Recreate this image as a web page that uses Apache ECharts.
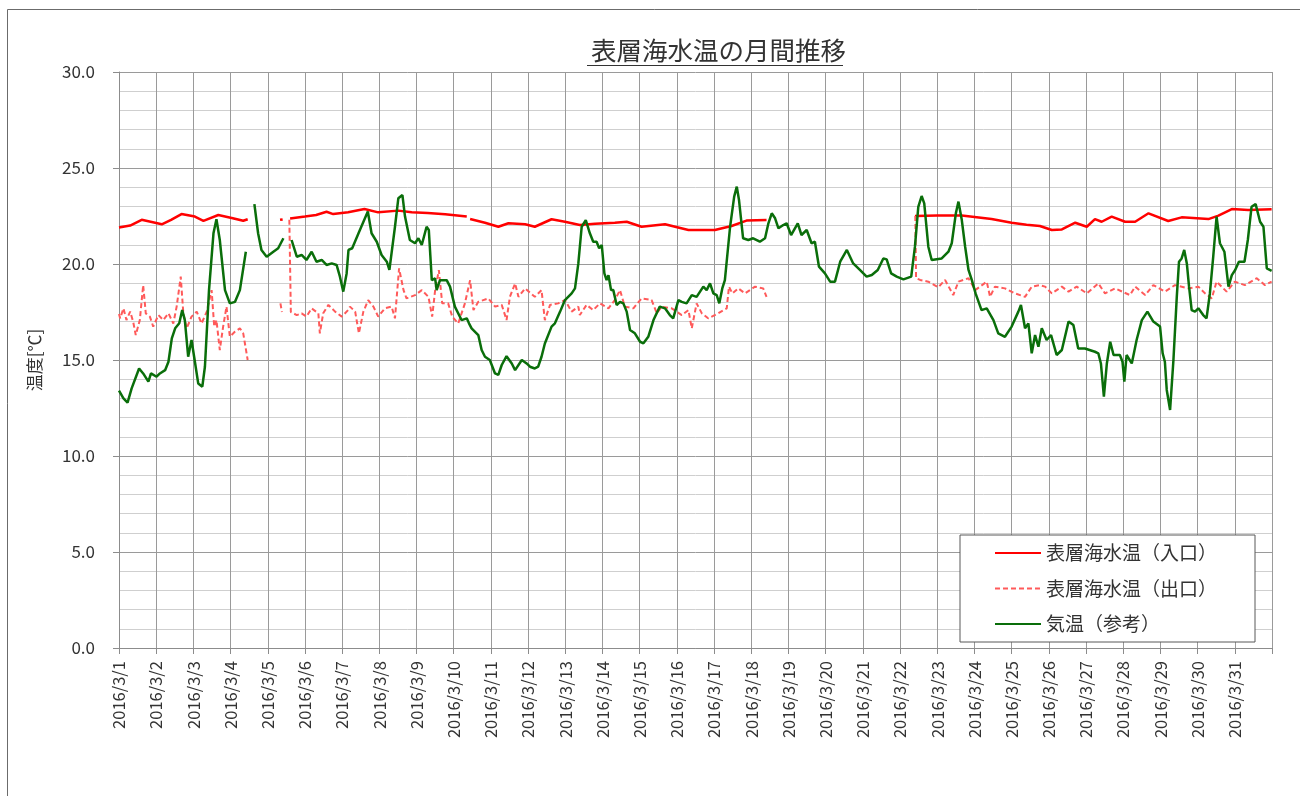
<!DOCTYPE html>
<html><head><meta charset="utf-8">
<script src="https://cdn.jsdelivr.net/npm/echarts@6/dist/echarts.min.js"></script>
<style>html,body{margin:0;padding:0;background:#fff}#c{width:1300px;height:796px}</style>
</head><body><div id="c"></div>
<script>
const dayLabels = ['2016/3/1','2016/3/2','2016/3/3','2016/3/4','2016/3/5','2016/3/6','2016/3/7','2016/3/8','2016/3/9','2016/3/10','2016/3/11','2016/3/12','2016/3/13','2016/3/14','2016/3/15','2016/3/16','2016/3/17','2016/3/18','2016/3/19','2016/3/20','2016/3/21','2016/3/22','2016/3/23','2016/3/24','2016/3/25','2016/3/26','2016/3/27','2016/3/28','2016/3/29','2016/3/30','2016/3/31'];
const seriesNames = ['表層海水温（入口）','表層海水温（出口）','気温（参考）'];
// [day of March (fractional), temperature °C]; null = no data
const inlet = [[1.00,21.90],[1.30,22.00],[1.61,22.30],[1.85,22.20],[2.15,22.07],[2.40,22.30],[2.68,22.60],[3.04,22.47],[3.27,22.25],[3.67,22.55],[4.03,22.40],[4.34,22.25],[4.46,22.33],[4.90,null],[5.33,22.30],[5.40,22.32],[5.50,null],[5.60,22.37],[6.00,22.47],[6.30,22.55],[6.58,22.72],[6.76,22.60],[7.16,22.70],[7.60,22.86],[7.97,22.69],[8.51,22.78],[8.87,22.69],[9.30,22.66],[9.77,22.59],[10.35,22.47],[10.40,null],[10.44,22.34],[10.84,22.15],[11.20,21.94],[11.47,22.12],[11.92,22.07],[12.18,21.94],[12.63,22.33],[12.99,22.20],[13.39,22.03],[13.80,22.10],[14.33,22.15],[14.65,22.20],[15.05,21.94],[15.68,22.07],[16.31,21.77],[17.02,21.77],[17.47,21.98],[17.87,22.26],[18.41,22.29],[20.00,null],[22.40,22.50],[23.00,22.52],[23.66,22.52],[24.46,22.34],[25.00,22.15],[25.40,22.05],[25.76,21.98],[26.08,21.77],[26.35,21.80],[26.71,22.15],[27.02,21.94],[27.24,22.34],[27.42,22.20],[27.69,22.47],[28.05,22.20],[28.32,22.20],[28.68,22.64],[29.21,22.24],[29.57,22.43],[30.29,22.34],[30.56,22.52],[30.92,22.86],[31.36,22.81],[31.99,22.85]];
const outlet = [[1.00,17.40],[1.03,17.17],[1.12,17.69],[1.20,17.08],[1.30,17.52],[1.38,17.00],[1.45,16.30],[1.56,17.08],[1.65,18.90],[1.72,17.43],[1.83,17.26],[1.92,16.74],[2.06,17.34],[2.19,17.08],[2.33,17.43],[2.46,16.90],[2.55,17.78],[2.66,19.34],[2.73,17.43],[2.82,16.65],[2.95,17.26],[3.09,17.52],[3.22,16.90],[3.36,17.52],[3.49,18.64],[3.56,16.74],[3.62,17.08],[3.71,15.52],[3.80,16.74],[3.89,17.78],[3.98,16.22],[4.12,16.48],[4.25,16.65],[4.34,16.39],[4.46,15.00],[4.90,null],[5.34,17.95],[5.38,17.50],[5.50,null],[5.58,22.30],[5.62,17.50],[5.78,17.34],[5.91,17.43],[6.04,17.26],[6.18,17.69],[6.36,17.43],[6.40,16.39],[6.49,17.43],[6.63,17.87],[6.81,17.52],[6.99,17.26],[7.16,17.60],[7.21,17.78],[7.35,17.52],[7.45,16.39],[7.57,17.52],[7.70,18.12],[7.84,17.78],[7.97,17.26],[8.15,17.69],[8.33,17.78],[8.42,17.17],[8.53,19.77],[8.65,18.64],[8.73,18.21],[8.96,18.38],[9.14,18.64],[9.32,18.29],[9.42,17.26],[9.50,18.64],[9.60,19.68],[9.69,17.95],[9.85,17.95],[9.96,17.26],[10.12,16.90],[10.30,17.95],[10.44,19.16],[10.53,17.60],[10.66,18.03],[10.93,18.21],[11.11,17.78],[11.29,17.87],[11.42,17.08],[11.51,18.29],[11.65,18.99],[11.74,18.29],[11.92,18.73],[12.18,18.29],[12.36,18.64],[12.45,17.08],[12.59,17.87],[12.81,17.95],[12.99,18.12],[13.17,17.52],[13.35,17.78],[13.39,17.34],[13.57,17.87],[13.75,17.60],[13.93,17.95],[14.16,17.69],[14.33,18.12],[14.47,18.64],[14.60,17.78],[14.83,17.69],[15.05,18.21],[15.32,18.12],[15.46,17.43],[15.59,17.78],[15.86,17.69],[16.13,17.34],[16.31,17.60],[16.40,16.65],[16.53,17.95],[16.67,17.43],[16.84,17.17],[17.11,17.43],[17.34,17.69],[17.40,18.82],[17.49,18.47],[17.65,18.73],[17.83,18.47],[18.10,18.82],[18.32,18.73],[18.41,18.29],[20.00,null],[22.41,22.50],[22.43,19.26],[22.54,19.17],[22.76,19.08],[23.03,18.79],[23.21,19.17],[23.43,18.38],[23.57,19.08],[23.84,19.26],[24.02,18.64],[24.33,19.08],[24.42,18.29],[24.55,18.82],[24.82,18.73],[25.09,18.47],[25.36,18.29],[25.54,18.82],[25.76,18.90],[25.90,18.82],[26.08,18.47],[26.35,18.82],[26.53,18.56],[26.75,18.82],[27.02,18.47],[27.33,18.99],[27.51,18.47],[27.78,18.73],[28.18,18.38],[28.32,18.82],[28.59,18.38],[28.81,18.90],[29.12,18.56],[29.39,18.90],[29.75,18.73],[30.02,18.82],[30.20,18.47],[30.38,18.21],[30.51,19.08],[30.78,18.56],[31.00,19.08],[31.27,18.90],[31.59,19.26],[31.81,18.90],[31.99,19.08]];
const airTemp = [[1.00,13.40],[1.03,13.35],[1.12,13.00],[1.23,12.78],[1.34,13.52],[1.54,14.56],[1.65,14.30],[1.79,13.87],[1.86,14.30],[2.01,14.13],[2.10,14.30],[2.24,14.47],[2.33,14.91],[2.42,16.13],[2.51,16.65],[2.62,16.91],[2.70,17.60],[2.77,17.08],[2.86,15.17],[2.95,16.04],[3.02,15.17],[3.13,13.78],[3.24,13.61],[3.31,14.65],[3.42,18.64],[3.54,21.60],[3.62,22.33],[3.71,21.25],[3.85,18.64],[3.98,17.95],[4.12,18.03],[4.25,18.64],[4.41,20.64],[4.52,null],[4.64,23.12],[4.74,21.60],[4.83,20.73],[4.97,20.38],[5.15,20.64],[5.28,20.82],[5.42,21.34],[5.52,null],[5.64,21.25],[5.78,20.38],[5.91,20.47],[6.04,20.21],[6.18,20.64],[6.31,20.12],[6.45,20.21],[6.58,19.95],[6.72,20.03],[6.85,19.95],[6.94,19.34],[7.03,18.56],[7.12,19.51],[7.17,20.73],[7.27,20.82],[7.44,21.60],[7.69,22.73],[7.79,21.60],[7.93,21.16],[8.06,20.47],[8.20,20.12],[8.27,19.69],[8.42,21.94],[8.51,23.42],[8.62,23.59],[8.69,22.47],[8.82,21.25],[8.96,21.08],[9.05,21.34],[9.14,20.99],[9.27,21.94],[9.33,21.77],[9.41,19.16],[9.50,19.25],[9.54,18.64],[9.63,19.16],[9.81,19.16],[9.90,18.82],[10.03,17.78],[10.21,17.08],[10.35,17.17],[10.41,16.91],[10.48,16.65],[10.66,16.30],[10.75,15.52],[10.84,15.17],[10.97,15.00],[11.11,14.30],[11.20,14.22],[11.29,14.74],[11.42,15.20],[11.56,14.82],[11.65,14.47],[11.83,15.00],[11.96,14.82],[12.05,14.65],[12.18,14.56],[12.27,14.65],[12.36,15.17],[12.45,15.86],[12.63,16.74],[12.72,16.91],[12.86,17.52],[12.99,18.12],[13.17,18.47],[13.26,18.73],[13.35,20.03],[13.44,21.94],[13.55,22.29],[13.66,21.60],[13.75,21.16],[13.84,21.16],[13.91,20.82],[13.98,20.99],[14.05,19.51],[14.11,19.16],[14.16,19.42],[14.23,18.64],[14.29,18.64],[14.38,17.86],[14.47,18.03],[14.56,17.95],[14.65,17.52],[14.74,16.56],[14.87,16.39],[15.01,15.95],[15.10,15.87],[15.23,16.21],[15.37,17.08],[15.54,17.78],[15.68,17.69],[15.81,17.34],[15.90,17.17],[16.04,18.12],[16.13,18.03],[16.26,17.95],[16.40,18.38],[16.53,18.29],[16.71,18.82],[16.80,18.64],[16.89,18.99],[16.98,18.47],[17.07,18.38],[17.14,17.95],[17.22,18.73],[17.29,19.16],[17.43,21.94],[17.54,23.51],[17.61,24.03],[17.67,23.33],[17.78,21.34],[17.92,21.25],[18.05,21.34],[18.23,21.16],[18.37,21.34],[18.46,22.12],[18.55,22.64],[18.64,22.38],[18.73,21.86],[18.86,22.03],[18.95,22.12],[19.07,21.51],[19.25,22.12],[19.35,21.51],[19.49,21.77],[19.53,21.80],[19.62,21.08],[19.71,21.16],[19.82,19.86],[19.98,19.51],[20.12,19.08],[20.25,19.08],[20.39,20.12],[20.57,20.73],[20.74,20.03],[20.92,19.69],[21.10,19.34],[21.24,19.43],[21.40,19.69],[21.55,20.29],[21.64,20.24],[21.76,19.51],[21.91,19.34],[22.09,19.20],[22.30,19.34],[22.40,20.90],[22.49,22.98],[22.58,23.54],[22.65,23.16],[22.76,20.90],[22.85,20.21],[23.12,20.29],[23.30,20.64],[23.39,21.08],[23.50,22.64],[23.57,23.25],[23.66,22.29],[23.75,20.90],[23.84,19.69],[23.93,19.16],[24.03,18.47],[24.19,17.60],[24.33,17.69],[24.51,17.08],[24.64,16.39],[24.82,16.21],[25.00,16.74],[25.18,17.52],[25.25,17.86],[25.36,16.65],[25.45,16.91],[25.54,15.35],[25.63,16.30],[25.72,15.69],[25.81,16.65],[25.94,16.04],[26.06,16.30],[26.21,15.26],[26.35,15.52],[26.53,17.00],[26.66,16.82],[26.79,15.60],[26.97,15.60],[27.24,15.43],[27.33,15.35],[27.40,14.82],[27.48,13.09],[27.56,14.82],[27.65,15.95],[27.74,15.26],[27.91,15.26],[27.98,14.91],[28.03,13.87],[28.09,15.26],[28.23,14.82],[28.36,16.04],[28.50,17.08],[28.65,17.52],[28.81,17.00],[28.99,16.74],[29.06,15.35],[29.12,14.91],[29.17,13.44],[29.26,12.40],[29.35,15.00],[29.44,18.29],[29.50,20.12],[29.57,20.29],[29.64,20.73],[29.71,20.03],[29.77,18.82],[29.84,17.60],[29.93,17.52],[30.02,17.69],[30.15,17.34],[30.24,17.17],[30.33,18.47],[30.42,20.38],[30.51,22.47],[30.60,21.08],[30.72,20.64],[30.83,18.82],[30.92,19.42],[31.01,19.69],[31.11,20.12],[31.26,20.12],[31.35,21.25],[31.45,22.98],[31.56,23.12],[31.68,22.20],[31.77,21.94],[31.86,19.77],[31.99,19.64]];

const toData = arr => arr.map(p => [p[0], p[1] === null ? '-' : p[1]]);
const FONT = '"Noto Sans CJK JP", "Noto Sans", sans-serif';
const chart = echarts.init(document.getElementById('c'), null, {renderer: 'canvas'});
chart.setOption({
  backgroundColor: '#fff',
  animation: false,
  title: {
    text: '表層海水温の月間推移', left: 586, top: 33,
    textStyle: {fontFamily: FONT, fontSize: 25.5, fontWeight: 'normal', color: '#333'}
  },
  graphic: [
    {type: 'rect', shape: {x: 7.5, y: 9.5, width: 1320, height: 820}, style: {fill: null, stroke: '#6b6b6b', lineWidth: 1}, silent: true},
    {type: 'line', shape: {x1: 587, y1: 65.5, x2: 843, y2: 65.5}, style: {stroke: '#333', lineWidth: 1.2}, silent: true}
  ],
  legend: {
    orient: 'vertical', left: 960, top: 535,
    padding: [7, 38, 7, 34], itemGap: 13.5, itemWidth: 46, itemHeight: 14,
    backgroundColor: '#fff', borderColor: '#595959', borderWidth: 1,
    itemStyle: {opacity: 0},
    textStyle: {fontFamily: FONT, fontSize: 19, color: '#333', lineHeight: 22},
    data: seriesNames
  },
  grid: {left: 119, right: 28, top: 72, bottom: 148, containLabel: false},
  xAxis: {
    type: 'value', min: 1, max: 32, interval: 1,
    axisLine: {show: true, lineStyle: {color: '#8c8c8c', width: 1}},
    axisTick: {show: true, length: 6, lineStyle: {color: '#8c8c8c'}},
    splitLine: {show: true, lineStyle: {color: '#9a9a9a', width: 1}},
    axisLabel: {
      rotate: 90, margin: 13, fontFamily: FONT, fontSize: 16.5, color: '#333',
      formatter: v => (v >= 1 && v <= 31) ? dayLabels[v - 1] : ''
    }
  },
  yAxis: {
    type: 'value', min: 0, max: 30, interval: 5,
    name: '温度[℃]', nameLocation: 'middle', nameRotate: 90, nameGap: 76,
    nameTextStyle: {fontFamily: FONT, fontSize: 17, color: '#333'},
    axisLine: {show: true, lineStyle: {color: '#8c8c8c'}},
    axisTick: {show: true, length: 6, lineStyle: {color: '#8c8c8c'}},
    axisLabel: {margin: 24, fontFamily: FONT, fontSize: 17, color: '#333', formatter: v => v.toFixed(1)},
    splitLine: {show: true, lineStyle: {color: '#9a9a9a', width: 1}},
    minorTick: {show: false, splitNumber: 5},
    minorSplitLine: {show: true, lineStyle: {color: '#cfcfcf', width: 1}}
  },
  series: [
    {name: seriesNames[0], type: 'line', data: toData(inlet), showSymbol: false, symbol: 'none', connectNulls: false,
     lineStyle: {color: '#ff0000', width: 2.5}, itemStyle: {color: '#ff0000'}},
    {name: seriesNames[1], type: 'line', data: toData(outlet), showSymbol: false, symbol: 'none', connectNulls: false,
     lineStyle: {color: '#ff5a5a', width: 2, type: [5, 3]}, itemStyle: {color: '#ff5a5a'}},
    {name: seriesNames[2], type: 'line', data: toData(airTemp), showSymbol: false, symbol: 'none', connectNulls: false,
     lineStyle: {color: '#0a6e0a', width: 2.5}, itemStyle: {color: '#0a6e0a'}}
  ]
});
</script></body></html>
